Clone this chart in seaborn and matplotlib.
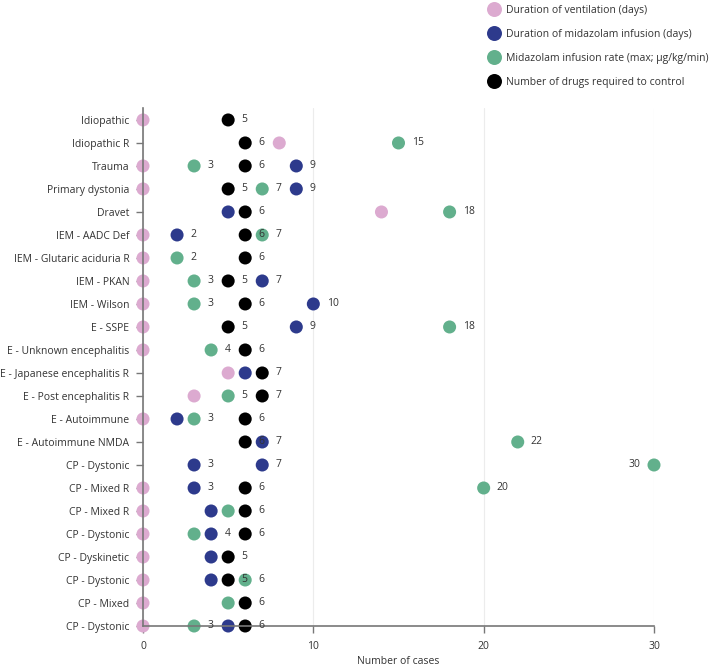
import numpy as np
import pandas as pd
import matplotlib
matplotlib.use('agg')
import matplotlib.pyplot as plt
import seaborn as sns

# rows, top to bottom
conditions = ['Idiopathic', 'Idiopathic R', 'Trauma', 'Primary dystonia', 'Dravet',
              'IEM - AADC Def', 'IEM - Glutaric aciduria R', 'IEM - PKAN', 'IEM - Wilson',
              'E - SSPE', 'E - Unknown encephalitis', 'E - Japanese encephalitis R',
              'E - Post encephalitis R', 'E - Autoimmune', 'E - Autoimmune NMDA',
              'CP - Dystonic', 'CP - Mixed R', 'CP - Mixed R', 'CP - Dystonic',
              'CP - Dyskinetic', 'CP - Dystonic', 'CP - Mixed', 'CP - Dystonic']

ventilation_days = [0, 8, 0, 0, 14, 0, 0, 0, 0, 0, 0, 5, 3, 0, None,
                    None, 0, 0, 0, 0, 0, 0, 0]
infusion_days = [None, None, 9, 9, 5, 2, None, 7, 10, 9, None, 6, None, 2, 7,
                 (3, 7), 3, 4, 4, 4, 4, None, 5]
infusion_rate = [None, 15, 3, 7, 18, 7, 2, 3, 3, 18, 4, None, 5, 3, 22,
                 30, 20, 5, 3, None, 6, 5, 3]
drugs_needed = [5, 6, 6, 5, 6, 6, 6, 5, 6, 5, 6, 7, 7, 6, 6,
                None, 6, 6, 6, 5, 5, 6, 6]

series_names = ['Duration of ventilation (days)',
                'Duration of midazolam infusion (days)',
                'Midazolam infusion rate (max; µg/kg/min)',
                'Number of drugs required to control']
series_values = [ventilation_days, infusion_days, infusion_rate, drugs_needed]
colors = ['#dcaad0', '#2d3a8c', '#62b08c', '#000000']

rows = []
for name, vals in zip(series_names, series_values):
    for i, v in enumerate(vals):
        if v is None:
            continue
        for x in np.atleast_1d(v):
            rows.append({'row': i, 'value': x, 'series': name})
df = pd.DataFrame(rows)

sns.set_style('white')
plt.rcParams['font.family'] = ['Open Sans', 'DejaVu Sans']
fs = 7.45
plt.rcParams['font.size'] = fs
text_color = '#333333'
axis_color = '#777777'

fig = plt.figure(figsize=(7.11, 6.66), dpi=100)
ax = fig.add_axes([143 / 711, 1 - 626 / 666, 511 / 711, 518 / 666])

sns.scatterplot(data=df, x='value', y='row', hue='series', hue_order=series_names,
                palette=colors, s=88, linewidth=0, ax=ax, clip_on=False, zorder=1)

# value labels (ventilation not labelled; hidden when the next point is too close)
for _, r in df.iterrows():
    if r['series'] == series_names[0]:
        continue
    same_row = df[(df['row'] == r['row'])]
    close = ((same_row['value'] > r['value']) & (same_row['value'] <= r['value'] + 1)).any()
    if close and r['series'] != series_names[3]:
        continue
    if r['value'] >= 30:
        ax.annotate(f"{r['value']:g}", (r['value'], r['row']), xytext=(-10, 0),
                    textcoords='offset points', ha='right', va='center',
                    color=text_color, fontsize=fs, zorder=4)
    else:
        ax.annotate(f"{r['value']:g}", (r['value'], r['row']), xytext=(9.5, 0),
                    textcoords='offset points', ha='left', va='center',
                    color=text_color, fontsize=fs, zorder=4)

ax.set_xlim(0, 30)
ax.set_ylim(22, -0.52)
ax.set_xticks([0, 10, 20, 30])
ax.set_yticks(range(len(conditions)))
ax.set_yticklabels(conditions)
ax.set_xlabel('Number of cases', color=text_color, fontsize=fs, labelpad=2.5)
ax.set_ylabel('')
ax.grid(axis='x', color='#ececec', linewidth=0.8)
ax.grid(axis='y', visible=False)
ax.set_axisbelow(True)

for side in ['top', 'right']:
    ax.spines[side].set_visible(False)
for side in ['left', 'bottom']:
    ax.spines[side].set_color(axis_color)
    ax.spines[side].set_linewidth(1.2)
    ax.spines[side].set_zorder(3)
ax.tick_params(axis='both', colors=axis_color, labelcolor=text_color, length=5,
               width=1, labelsize=fs, left=True, bottom=True, zorder=3)
ax.tick_params(axis='y', pad=4.8)
ax.tick_params(axis='x', pad=6)

sns.move_legend(ax, loc='upper left', bbox_to_anchor=(484 / 711, 1 - 5 / 666),
                bbox_transform=fig.transFigure, title=None, frameon=False,
                borderpad=0, borderaxespad=0, handletextpad=0.15,
                labelspacing=1.25, markerscale=1.15, fontsize=fs)
for t in ax.get_legend().get_texts():
    t.set_color(text_color)

plt.savefig('out.png', dpi=100)
plt.close()
